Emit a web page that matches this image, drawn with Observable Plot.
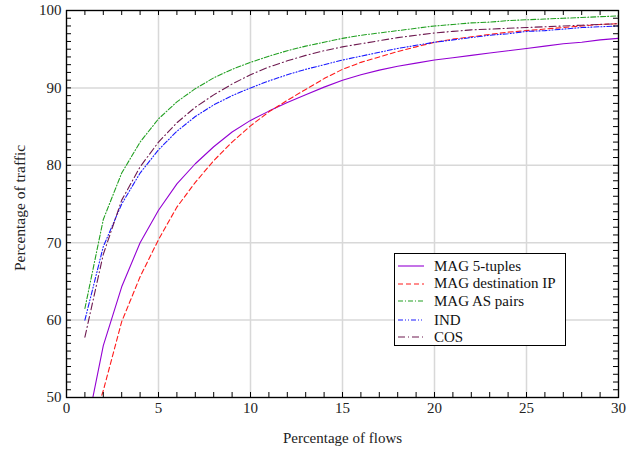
<!DOCTYPE html>
<html>
<head>
<meta charset="utf-8">
<script src="https://cdn.jsdelivr.net/npm/d3@7"></script>
<script src="https://cdn.jsdelivr.net/npm/@observablehq/plot@0.6"></script>
<style>
  body { margin: 0; background: #fff; }
  #wrap { position: relative; width: 636px; height: 449px; font-family: "Liberation Serif", "Times New Roman", serif; }
  #legend { position: absolute; left: 394px; top: 253px; width: 172px; height: 93px; border: 1.2px solid #000; background: #fff; box-sizing: border-box; }
  .row { position: absolute; left: 0; height: 16px; display: flex; align-items: center; font-size: 15px; color: #111; white-space: nowrap; }
  .row svg { margin-left: 3px; margin-right: 10px; }
</style>
</head>
<body>
<div id="wrap"></div>
<script>
const flows = [1,2,3,4,5,6,7,8,9,10,11,12,13,14,15,16,17,18,19,20,21,22,23,24,25,26,27,28,29,30];
const mag5tuples = [44.9,56.7,64.3,70.0,74.2,77.6,80.2,82.4,84.3,85.8,87.0,88.1,89.1,90.1,91.0,91.7,92.3,92.8,93.2,93.6,93.9,94.2,94.5,94.8,95.1,95.4,95.7,95.9,96.2,96.4];
const magDestIP = [43.4,50.9,59.8,65.6,70.4,74.6,77.8,80.6,83.0,85.1,86.9,88.4,89.8,91.2,92.4,93.3,94.0,94.7,95.3,95.9,96.3,96.6,96.9,97.2,97.4,97.6,97.8,98.0,98.2,98.3];
const magASpairs = [61.5,73.0,79.0,83.0,86.0,88.2,89.9,91.3,92.4,93.3,94.1,94.8,95.4,95.9,96.4,96.8,97.1,97.4,97.7,98.0,98.2,98.4,98.5,98.7,98.8,98.9,99.0,99.1,99.2,99.3];
const ind = [60.0,69.5,75.0,79.0,82.0,84.4,86.3,87.8,89.0,90.0,90.9,91.7,92.4,93.0,93.6,94.1,94.6,95.1,95.5,95.9,96.2,96.5,96.8,97.0,97.3,97.4,97.6,97.8,97.9,98.0];
const cos = [57.8,68.5,75.5,79.8,83.0,85.5,87.5,89.1,90.5,91.7,92.7,93.5,94.2,94.8,95.3,95.7,96.1,96.5,96.8,97.1,97.3,97.5,97.6,97.7,97.8,97.9,98.0,98.1,98.2,98.3];

const xTicks = [0,5,10,15,20,25,30];
const yTicks = [50,60,70,80,90,100];
const xMinor = d3.range(0, 31, 1);
const yMinor = d3.range(50, 101, 1);

const series = [
  {name: "MAG 5-tuples", values: mag5tuples, color: "#9400d3", dash: null},
  {name: "MAG destination IP", values: magDestIP, color: "#ff1a1a", dash: "5,3"},
  {name: "MAG AS pairs", values: magASpairs, color: "#22a022", dash: "5,2,1,2"},
  {name: "IND", values: ind, color: "#1a1aff", dash: "5,2,1,2,1,2"},
  {name: "COS", values: cos, color: "#6e1a50", dash: "7,3,1,3"}
];

const mL = 66, mR = 18, mT = 10, mB = 52, W = 636, H = 449;
const pw = W - mL - mR, ph = H - mT - mB, tl = 5;
const FONT = '"Liberation Serif", "Times New Roman", serif';

const lines = series.map(s => Plot.line(flows.map((f, i) => ({x: f, y: s.values[i]})), {
  x: "x", y: "y", stroke: s.color, strokeWidth: 1.1, strokeDasharray: s.dash, clip: true
}));

const chart = Plot.plot({
  width: W, height: H,
  marginLeft: mL, marginRight: mR, marginTop: mT, marginBottom: mB,
  style: {fontFamily: FONT, fontSize: "15px", color: "#222", background: "#fff"},
  x: {domain: [0, 30]},
  y: {domain: [50, 100]},
  marks: [
    Plot.gridX(xTicks, {stroke: "#d8d8d8", strokeOpacity: 1, strokeWidth: 1.5}),
    Plot.gridY(yTicks, {stroke: "#d8d8d8", strokeOpacity: 1, strokeWidth: 1.5}),
    ...lines,
    Plot.tickX(xMinor, {x: d => d, insetTop: ph - tl, stroke: "#000"}),
    Plot.tickX(xMinor, {x: d => d, insetBottom: ph - tl, stroke: "#000"}),
    Plot.tickY(yMinor, {y: d => d, insetRight: pw - tl, stroke: "#000"}),
    Plot.tickY(yMinor, {y: d => d, insetLeft: pw - tl, stroke: "#000"}),
    Plot.frame({stroke: "#000", strokeWidth: 1.3}),
    Plot.axisX(xTicks, {tickSize: 0, tickPadding: 5, label: null, fill: "#222", fontSize: 15}),
    Plot.axisY(yTicks, {tickSize: 0, tickPadding: 5, label: null, fill: "#222", fontSize: 15}),
    Plot.text(["Percentage of flows"], {frameAnchor: "bottom", dy: 41, textAnchor: "middle", lineAnchor: "middle", fill: "#222", fontSize: 15}),
    Plot.text(["Percentage of traffic"], {frameAnchor: "left", rotate: -90, dx: -46, dy: 4, textAnchor: "middle", lineAnchor: "middle", fill: "#222", fontSize: 15.5})
  ]
});

const wrap = document.getElementById("wrap");
wrap.appendChild(chart);

const legend = document.createElement("div");
legend.id = "legend";
const rowTops = [4, 21.5, 39, 58, 75];
series.forEach((s, i) => {
  const row = document.createElement("div");
  row.className = "row";
  row.style.top = rowTops[i] + "px";
  row.innerHTML = `<svg width="26" height="10"><line x1="0" y1="5" x2="26" y2="5" stroke="${s.color}" stroke-width="1.1" ${s.dash ? `stroke-dasharray="${s.dash}"` : ""}/></svg><span>${s.name}</span>`;
  legend.appendChild(row);
});
wrap.appendChild(legend);
</script>
</body>
</html>
